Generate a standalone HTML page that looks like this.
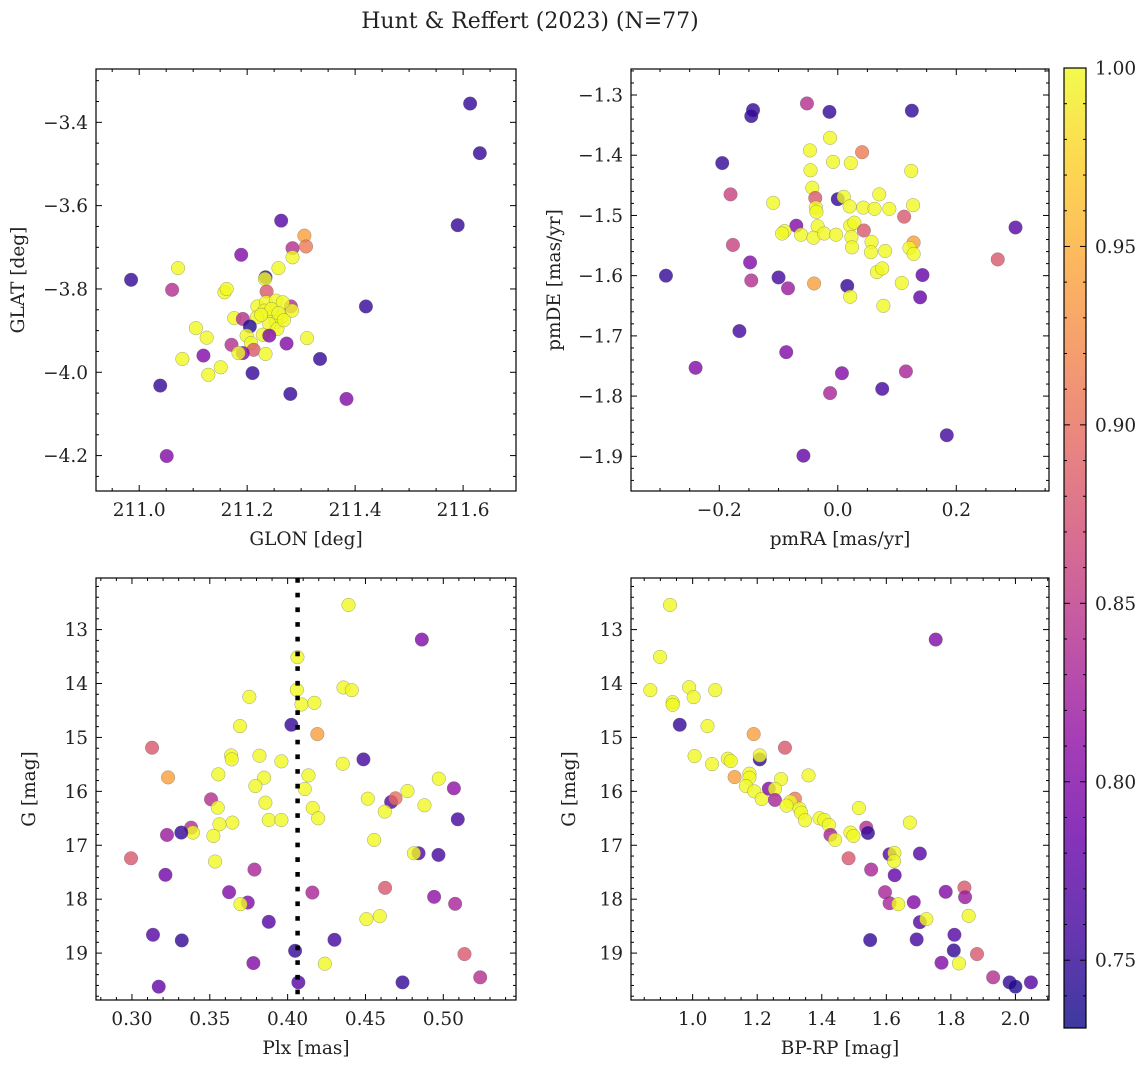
<!DOCTYPE html>
<html><head><meta charset="utf-8"><style>
body{margin:0;background:#fff;}
svg text{font-family:"DejaVu Serif","Liberation Serif",serif;fill:#222;}
</style></head><body>
<svg id="fig" width="1148" height="1068" viewBox="0 0 1148 1068" xmlns="http://www.w3.org/2000/svg">
<defs>
<linearGradient id="plasma" x1="0" y1="1" x2="0" y2="0">
<stop offset="0" stop-color="#0d0887"/><stop offset="0.1" stop-color="#41049d"/><stop offset="0.2" stop-color="#6a00a8"/><stop offset="0.3" stop-color="#8f0da4"/><stop offset="0.4" stop-color="#b12a90"/><stop offset="0.5" stop-color="#cc4778"/><stop offset="0.6" stop-color="#e16462"/><stop offset="0.7" stop-color="#f2844b"/><stop offset="0.8" stop-color="#fca636"/><stop offset="0.9" stop-color="#fcce25"/><stop offset="1" stop-color="#f0f921"/>
</linearGradient>
</defs>
<text x="530" y="28" font-size="22" text-anchor="middle">Hunt &amp; Reffert (2023) (N=77)</text>
</svg>
<script>
// ---- data ----
const p1x=[211.613,211.631,211.590,211.263,211.306,211.309,211.284,211.284,211.189,211.072,211.258,210.985,211.234,211.233,211.061,211.158,211.162,211.236,211.420,211.281,211.283,211.219,211.235,211.253,211.266,211.232,211.250,211.263,211.253,211.241,211.256,211.218,211.229,211.176,211.192,211.205,211.241,211.105,211.125,211.199,211.207,211.311,211.273,211.171,211.212,211.192,211.184,211.234,211.119,211.080,211.335,211.151,211.128,211.210,211.039,211.280,211.384,211.051,211.245,211.258,211.268,211.226];
const p1y=[-3.355,-3.474,-3.647,-3.636,-3.672,-3.698,-3.702,-3.724,-3.718,-3.750,-3.750,-3.778,-3.772,-3.776,-3.802,-3.808,-3.800,-3.806,-3.842,-3.842,-3.852,-3.842,-3.832,-3.828,-3.832,-3.852,-3.864,-3.868,-3.880,-3.884,-3.896,-3.868,-3.910,-3.870,-3.872,-3.890,-3.912,-3.894,-3.917,-3.912,-3.930,-3.918,-3.931,-3.934,-3.946,-3.954,-3.954,-3.956,-3.960,-3.968,-3.968,-3.988,-4.006,-4.002,-4.032,-4.052,-4.064,-4.201,-3.848,-3.858,-3.875,-3.862];
const p1c=[0.75,0.75,0.75,0.77,0.94,0.91,0.84,1,0.80,1,1,0.75,0.75,1,0.84,1,1,0.88,0.75,0.84,1,1,1,1,1,1,1,1,1,1,1,1,1,1,0.84,0.74,0.80,1,1,1,1,1,0.80,0.84,0.88,0.80,1,1,0.80,1,0.75,1,1,0.75,0.75,0.75,0.80,0.80,1,1,1,1];

const p2x=[-0.052,-0.143,-0.146,-0.014,0.125,-0.013,-0.047,0.041,-0.195,-0.008,0.022,-0.046,0.124,-0.181,-0.043,-0.038,0.000,0.010,0.070,-0.109,-0.037,-0.036,0.020,0.043,0.062,0.087,0.127,0.112,0.300,-0.070,-0.034,0.021,0.028,0.044,-0.090,-0.094,-0.062,-0.041,-0.023,-0.003,0.023,0.024,0.057,0.056,0.080,0.128,0.121,0.128,-0.177,0.270,-0.148,-0.290,-0.100,-0.146,-0.084,-0.040,0.016,0.021,0.066,0.075,0.108,0.143,0.139,0.077,-0.166,-0.087,-0.240,0.007,0.115,0.075,-0.013,0.184,-0.058];
const p2y=[-1.314,-1.325,-1.335,-1.328,-1.326,-1.371,-1.392,-1.395,-1.413,-1.411,-1.413,-1.425,-1.426,-1.465,-1.454,-1.471,-1.473,-1.469,-1.465,-1.479,-1.487,-1.494,-1.485,-1.487,-1.489,-1.489,-1.483,-1.502,-1.520,-1.517,-1.518,-1.517,-1.512,-1.525,-1.526,-1.530,-1.532,-1.537,-1.530,-1.532,-1.536,-1.553,-1.544,-1.561,-1.559,-1.545,-1.554,-1.564,-1.549,-1.573,-1.578,-1.600,-1.603,-1.608,-1.621,-1.613,-1.617,-1.635,-1.594,-1.588,-1.612,-1.599,-1.636,-1.650,-1.692,-1.727,-1.753,-1.762,-1.759,-1.788,-1.795,-1.865,-1.899];
const p2c=[0.84,0.75,0.75,0.75,0.75,1,1,0.91,0.75,1,1,1,1,0.86,1,0.88,0.75,1,1,1,1,1,1,1,1,1,1,0.88,0.77,0.80,1,1,1,0.88,1,1,1,1,1,1,1,1,1,1,1,0.94,1,1,0.86,0.88,0.80,0.75,0.76,0.84,0.82,0.94,0.75,1,1,1,1,0.78,0.78,1,0.76,0.80,0.80,0.80,0.83,0.76,0.83,0.76,0.78];

const p3x=[0.4391,0.4862,0.4063,0.4059,0.4359,0.4412,0.4089,0.4172,0.3754,0.3694,0.4024,0.4191,0.3129,0.3637,0.3641,0.3819,0.3960,0.4354,0.4487,0.3232,0.3555,0.3849,0.3793,0.4134,0.4110,0.4971,0.5068,0.4770,0.3508,0.3551,0.3857,0.4161,0.4196,0.4515,0.4665,0.4693,0.4624,0.4879,0.5093,0.3879,0.3960,0.3645,0.3562,0.3380,0.3392,0.3317,0.3225,0.3523,0.4556,0.2994,0.3534,0.4841,0.4811,0.4969,0.3215,0.3787,0.3624,0.3744,0.3697,0.4159,0.4626,0.4941,0.5076,0.4506,0.4592,0.3879,0.3135,0.3320,0.4301,0.4048,0.5136,0.3780,0.4239,0.5237,0.4069,0.4738,0.3172];
const p3y=[12.543,13.185,13.512,14.117,14.074,14.123,14.389,14.358,14.247,14.790,14.765,14.938,15.191,15.333,15.407,15.339,15.444,15.488,15.407,15.741,15.685,15.747,15.901,15.704,15.957,15.765,15.944,15.994,16.148,16.302,16.210,16.308,16.500,16.136,16.197,16.129,16.376,16.259,16.518,16.531,16.531,16.580,16.611,16.673,16.765,16.765,16.809,16.827,16.901,17.241,17.302,17.148,17.148,17.179,17.549,17.451,17.870,18.062,18.093,17.877,17.790,17.957,18.086,18.370,18.315,18.420,18.660,18.765,18.753,18.957,19.018,19.185,19.197,19.450,19.543,19.543,19.623];
const p3c=[1,0.80,1,1,1,1,1,1,1,1,0.75,0.94,0.88,1,1,1,1,1,0.76,0.94,1,1,1,1,1,1,0.81,1,0.84,1,1,1,1,1,0.77,0.90,1,1,0.76,1,1,1,1,0.84,1,0.75,0.82,1,1,0.88,1,0.77,1,0.76,0.79,0.83,0.80,0.80,1,0.83,0.88,0.81,0.83,1,1,0.77,0.77,0.75,0.76,0.75,0.88,0.80,1,0.84,0.77,0.75,0.78];

const p4x=[0.930,0.899,1.753,0.869,0.989,1.003,1.070,0.938,0.938,0.960,1.046,1.189,1.286,1.006,1.060,1.109,1.118,1.208,1.208,1.359,1.130,1.176,1.176,1.274,1.165,1.191,1.214,1.236,1.255,1.255,1.317,1.303,1.291,1.331,1.336,1.348,1.393,1.408,1.422,1.427,1.441,1.489,1.498,1.515,1.538,1.543,1.673,1.483,1.553,1.610,1.625,1.624,1.704,1.626,1.596,1.610,1.637,1.685,1.784,1.842,1.844,1.704,1.724,1.855,1.550,1.694,1.811,1.809,1.881,1.771,1.825,1.931,1.982,2.000,2.048];
const p4y=[12.543,13.506,13.185,14.123,14.068,14.253,14.123,14.346,14.395,14.765,14.790,14.938,15.191,15.346,15.494,15.395,15.438,15.407,15.333,15.704,15.735,15.673,15.747,15.772,15.901,16.000,16.142,15.950,15.957,16.160,16.136,16.191,16.265,16.321,16.395,16.537,16.500,16.531,16.623,16.809,16.901,16.765,16.827,16.309,16.673,16.772,16.580,17.241,17.451,17.167,17.142,17.296,17.154,17.556,17.870,18.074,18.093,18.055,17.864,17.784,17.963,18.426,18.370,18.309,18.759,18.747,18.660,18.951,19.018,19.179,19.191,19.450,19.543,19.623,19.543];
const p4c=[1,1,0.80,1,1,1,1,1,1,0.75,1,0.94,0.88,1,1,1,1,0.75,1,1,0.94,1,1,1,1,1,1,0.80,1,0.83,0.91,1,1,1,1,1,1,1,1,0.83,1,1,1,1,0.84,0.75,1,0.88,0.83,0.77,1,1,0.77,0.78,0.83,0.83,1,0.80,0.80,0.88,0.82,0.77,1,1,0.75,0.76,0.77,0.75,0.88,0.80,1,0.84,0.75,0.74,0.77];

const cbTicks=[0.75,0.80,0.85,0.90,0.95,1.00];
const cbMin=0.731, cbMax=1.0;

// ---- helpers ----
const NS="http://www.w3.org/2000/svg";
const svg=document.getElementById('fig');
const FS=18.5;
function mk(tag,attrs,parent){const e=document.createElementNS(NS,tag);for(const k in attrs)e.setAttribute(k,attrs[k]);(parent||svg).appendChild(e);return e;}
const stops=[[0,[13,8,135]],[0.1,[65,4,157]],[0.2,[106,0,168]],[0.3,[143,13,164]],[0.4,[177,42,144]],[0.5,[204,71,120]],[0.6,[225,100,98]],[0.7,[242,132,75]],[0.8,[252,166,54]],[0.9,[252,206,37]],[1,[240,249,33]]];
function plasma(t){t=Math.max(0,Math.min(1,t));for(let i=1;i<stops.length;i++){if(t<=stops[i][0]){const a=stops[i-1],b=stops[i];const f=(t-a[0])/(b[0]-a[0]);const c=a[1].map((v,j)=>Math.round(v+(b[1][j]-v)*f));return `rgb(${c[0]},${c[1]},${c[2]})`;}}return 'rgb(240,249,33)';}
function fmt(v,d){return v.toFixed(d).replace('-','\u2212');}

function panel(o){
  const g=mk('g',{});
  
  
  const X=v=>o.L+(v-o.x0)/(o.x1-o.x0)*(o.R-o.L);
  const Y=v=>o.T+(v-o.y0)/(o.y1-o.y0)*(o.B-o.T);
  const pts=mk('g',{},g);
  
  
  for(let i=0;i<o.xs.length;i++){
    const c=mk('circle',{cx:X(o.xs[i]),cy:Y(o.ys[i]),r:6.8,fill:plasma((o.cs[i]-cbMin)/(cbMax-cbMin)),'fill-opacity':0.8,stroke:'#666','stroke-opacity':0.6,'stroke-width':0.5},pts);
    
    
  }
  if(o.vline!==undefined){
    const l=mk('line',{x1:X(o.vline),x2:X(o.vline),y1:o.T,y2:o.B,stroke:'#000','stroke-width':4.5,'stroke-dasharray':'4.7 10'},g);
    
    
  }
  const fr=mk('rect',{x:o.L,y:o.T,width:o.R-o.L,height:o.B-o.T,fill:'none',stroke:'#000','stroke-width':1.2},g);
  
  
  const tk=mk('g',{stroke:'#000','stroke-width':1},g);
  const xmin=Math.min(o.x0,o.x1),xmax=Math.max(o.x0,o.x1),ymin=Math.min(o.y0,o.y1),ymax=Math.max(o.y0,o.y1);
  for(let k=Math.ceil(xmin/o.xm-1e-6);k*o.xm<=xmax+1e-9;k++){const v=k*o.xm,px=X(v);const major=Math.abs(v/o.xM-Math.round(v/o.xM))<1e-6;const len=major?6:3;
    mk('line',{x1:px,x2:px,y1:o.B,y2:o.B-len},tk);mk('line',{x1:px,x2:px,y1:o.T,y2:o.T+len},tk);
    if(major){const t=mk('text',{x:px,y:o.B+25,'font-size':FS,'text-anchor':'middle'},g);t.textContent=fmt(v,o.xd);}}
  for(let k=Math.ceil(ymin/o.ym-1e-6);k*o.ym<=ymax+1e-9;k++){const v=k*o.ym,py=Y(v);const major=Math.abs(v/o.yM-Math.round(v/o.yM))<1e-6;const len=major?6:3;
    mk('line',{x1:o.L,x2:o.L+len,y1:py,y2:py},tk);mk('line',{x1:o.R,x2:o.R-len,y1:py,y2:py},tk);
    if(major){const t=mk('text',{x:o.L-8,y:py+6.5,'font-size':FS,'text-anchor':'end'},g);t.textContent=fmt(v,o.yd);}}
  const xl=mk('text',{x:(o.L+o.R)/2,y:o.B+54,'font-size':FS,'text-anchor':'middle'},g);xl.textContent=o.xlab;
  
  
  const yx=o.L-o.yoff, yy=(o.T+o.B)/2;
  const yl=mk('text',{x:yx,y:yy,'font-size':FS,'text-anchor':'middle',transform:`rotate(-90 ${yx} ${yy})`},g);yl.textContent=o.ylab;
  
  
}

panel({name:'glon-glat-panel',L:96,R:516,T:69,B:491,x0:210.92,x1:211.698,y0:-3.272,y1:-4.285,xs:p1x,ys:p1y,cs:p1c,xm:0.05,xM:0.2,ym:0.05,yM:0.2,xd:1,yd:1,xlab:'GLON [deg]',ylab:'GLAT [deg]',yoff:72});
panel({name:'proper-motion-panel',L:631,R:1049,T:69,B:491,x0:-0.349,x1:0.3565,y0:-1.2568,y1:-1.9576,xs:p2x,ys:p2y,cs:p2c,xm:0.05,xM:0.2,ym:0.02,yM:0.1,xd:1,yd:1,xlab:'pmRA [mas/yr]',ylab:'pmDE [mas/yr]',yoff:71});
panel({name:'parallax-magnitude-panel',L:96,R:516,T:578,B:1000,x0:0.2769,x1:0.5467,y0:12.043,y1:19.87,xs:p3x,ys:p3y,cs:p3c,xm:0.01,xM:0.05,ym:0.2,yM:1,xd:2,yd:0,xlab:'Plx [mas]',ylab:'G [mag]',yoff:61,vline:0.4064});
panel({name:'color-magnitude-panel',L:631,R:1049,T:578,B:1000,x0:0.809,x1:2.104,y0:12.043,y1:19.87,xs:p4x,ys:p4y,cs:p4c,xm:0.05,xM:0.2,ym:0.2,yM:1,xd:1,yd:0,xlab:'BP-RP [mag]',ylab:'G [mag]',yoff:56});

// colorbar
const cb=mk('g',{});


const cT=68,cB=1028,cL=1064,cR=1086;
mk('rect',{x:cL,y:cT,width:cR-cL,height:cB-cT,fill:'url(#plasma)','fill-opacity':0.8},cb);
mk('rect',{x:cL,y:cT,width:cR-cL,height:cB-cT,fill:'none',stroke:'#000','stroke-width':1.2},cb);
const CY=v=>cB-(v-cbMin)/(cbMax-cbMin)*(cB-cT);
for(let v=0.74;v<=1.0001;v+=0.01){const py=CY(v);const major=cbTicks.some(t=>Math.abs(t-v)<1e-6);
  mk('line',{x1:cR,x2:cR-(major?6:3),y1:py,y2:py,stroke:'#000'},cb);mk('line',{x1:cL,x2:cL+(major?6:3),y1:py,y2:py,stroke:'#000'},cb);}
cbTicks.forEach(v=>{const t=mk('text',{x:cR+9,y:CY(v)+6.5,'font-size':FS},cb);t.textContent=v.toFixed(2);
  
  });
</script>
</body></html>
